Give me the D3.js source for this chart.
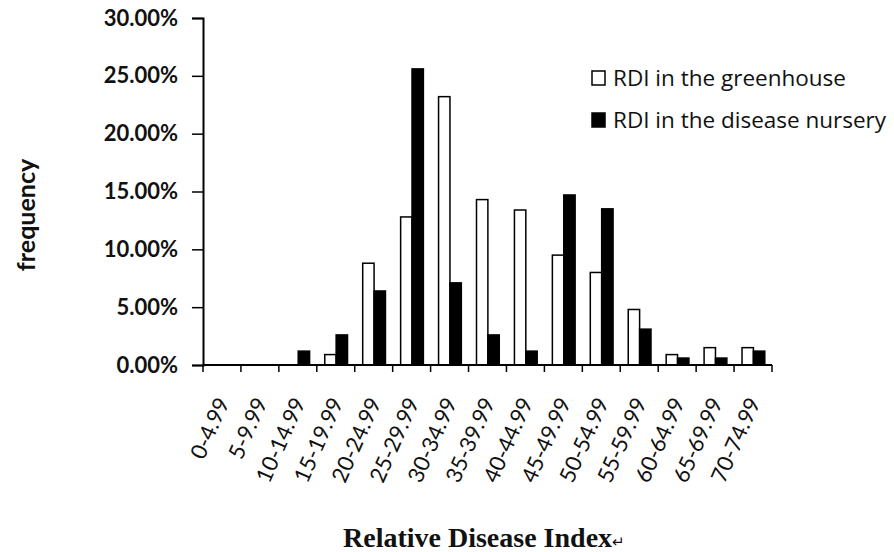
<!DOCTYPE html>
<html>
<head>
<meta charset="utf-8">
<script src="https://cdn.jsdelivr.net/npm/d3@7"></script>
<style>
  html, body { margin: 0; padding: 0; background: #fff; }
  svg { display: block; }
</style>
</head>
<body>
<svg id="chart"></svg>
<script>
const categories = [
  "0-4.99", "5-9.99", "10-14.99", "15-19.99", "20-24.99",
  "25-29.99", "30-34.99", "35-39.99", "40-44.99", "45-49.99",
  "50-54.99", "55-59.99", "60-64.99", "65-69.99", "70-74.99"
];
const seriesNames = ["RDI in the greenhouse", "RDI in the disease nursery"];
const greenhouse = [0, 0, 0, 0.9, 8.8, 12.8, 23.2, 14.3, 13.4, 9.5, 8.0, 4.8, 0.9, 1.5, 1.5];
const nursery = [0, 0, 1.2, 2.6, 6.4, 25.6, 7.1, 2.6, 1.2, 14.7, 13.5, 3.1, 0.6, 0.6, 1.2];
const yTicks = [0, 5, 10, 15, 20, 25, 30];

const W = 894, H = 552;
const plot = { left: 203, right: 772, top: 18, bottom: 365 };
const sans = "Lato, 'Open Sans', sans-serif";

const svg = d3.select("#chart").attr("width", W).attr("height", H);

const rows = categories.map((c, i) => ({ cat: c, values: [greenhouse[i], nursery[i]] }));

const x0 = d3.scaleBand().domain(categories).range([plot.left, plot.right]).padding(0);
const bw = x0.bandwidth();
const x1 = d3.scaleBand().domain(seriesNames).range([bw * 0.21, bw * 0.81]).padding(0);
const y = d3.scaleLinear().domain([0, 30]).range([plot.bottom, plot.top]);

const fills = ["#fff", "#000"];

// bars
const groups = svg.append("g")
  .selectAll("g")
  .data(rows)
  .enter()
  .append("g")
  .attr("transform", (d) => `translate(${x0(d.cat)},0)`);

groups.selectAll("rect")
  .data((d) => d.values.map((v, k) => ({ name: seriesNames[k], v, k })).filter((e) => e.v > 0))
  .enter()
  .append("rect")
  .attr("x", (d) => x1(d.name))
  .attr("y", (d) => y(d.v))
  .attr("width", x1.bandwidth())
  .attr("height", (d) => plot.bottom - y(d.v))
  .attr("fill", (d) => fills[d.k])
  .attr("stroke", "#000")
  .attr("stroke-width", 1.5);

// y axis
const yAxis = svg.append("g")
  .attr("transform", `translate(${plot.left},0)`)
  .call(d3.axisLeft(y).tickValues(yTicks).tickSize(11).tickPadding(14)
    .tickFormat((d) => d.toFixed(2) + "%"));
yAxis.select(".domain").attr("stroke-width", 2);
yAxis.selectAll(".tick line").attr("stroke-width", 1.5);
yAxis.selectAll("text")
  .style("font-family", sans)
  .style("font-weight", "bold")
  .style("font-size", "22px")
  .attr("fill", "#111");

// x axis, ticks sit on the band edges
const xAxis = svg.append("g")
  .attr("transform", `translate(0,${plot.bottom})`);
xAxis.append("line")
  .attr("x1", plot.left).attr("x2", plot.right)
  .attr("stroke", "#000").attr("stroke-width", 2);
const boundaries = categories.map((c) => x0(c)).concat([plot.right]);
xAxis.selectAll(".xtick")
  .data(boundaries)
  .enter()
  .append("line")
  .attr("class", "xtick")
  .attr("x1", (d) => d).attr("x2", (d) => d)
  .attr("y1", 0).attr("y2", 7)
  .attr("stroke", "#000").attr("stroke-width", 1.5);

xAxis.selectAll(".xlabel")
  .data(categories)
  .enter()
  .append("text")
  .attr("class", "xlabel")
  .attr("transform", (d) => `translate(${x0(d) + bw / 2 + 8},37) rotate(-66)`)
  .attr("text-anchor", "end")
  .style("font-family", sans)
  .style("font-size", "22px")
  .attr("fill", "#111")
  .text((d) => d);

// axis titles
svg.append("text")
  .attr("transform", "translate(35,215) rotate(-90)")
  .attr("text-anchor", "middle")
  .style("font-family", sans)
  .style("font-weight", "bold")
  .style("font-size", "25px")
  .attr("fill", "#111")
  .text("frequency");

const xTitle = svg.append("text")
  .attr("x", 343)
  .attr("y", 547)
  .style("font-family", "'Liberation Serif', 'Times New Roman', serif")
  .style("font-weight", "bold")
  .style("font-size", "28px")
  .attr("fill", "#111")
  .text("Relative Disease Index");
xTitle.append("tspan")
  .style("font-size", "15px")
  .style("font-weight", "normal")
  .text("\u21B5");

// legend
const legend = svg.append("g")
  .selectAll("g")
  .data(seriesNames)
  .enter()
  .append("g")
  .attr("transform", (d, i) => `translate(592,${71 + i * 42})`);
legend.append("rect")
  .attr("width", 13).attr("height", 14)
  .attr("fill", (d, i) => fills[i])
  .attr("stroke", "#000").attr("stroke-width", 1.5);
legend.append("text")
  .attr("x", 21).attr("y", 7).attr("dy", "0.35em")
  .style("font-family", "'Open Sans', Lato, sans-serif")
  .style("font-size", "22.5px")
  .attr("fill", "#111")
  .text((d) => d);
</script>
</body>
</html>
